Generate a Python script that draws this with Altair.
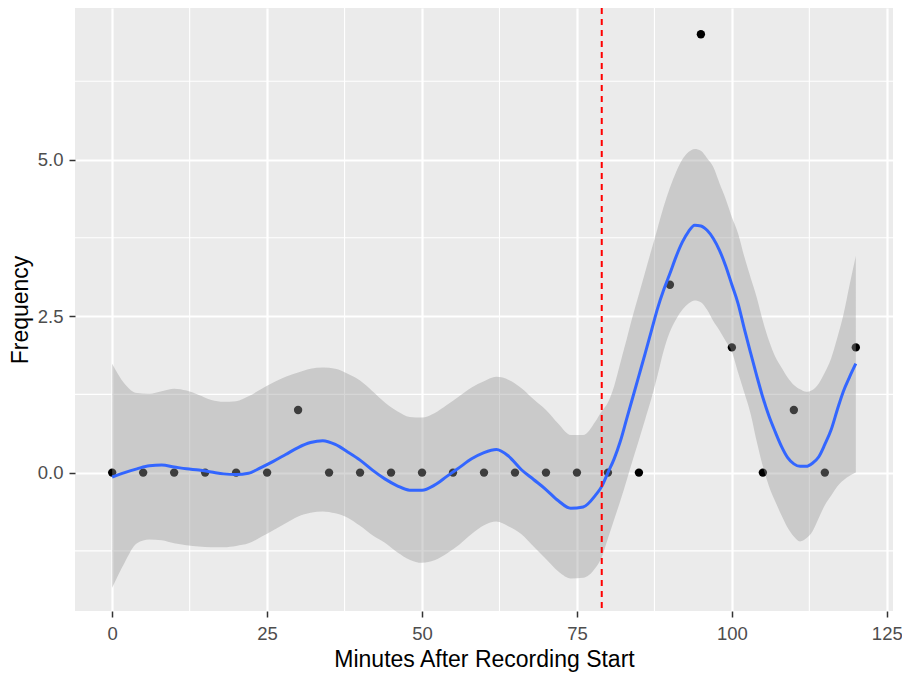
import altair as alt
import pandas as pd

# observed points
x_pts = [0, 5, 10, 15, 20, 25, 30, 35, 40, 45, 50, 55, 60, 65, 70, 75, 80, 85, 90, 95, 100, 105, 110, 115, 120]
y_pts = [0, 0, 0, 0, 0, 0, 1, 0, 0, 0, 0, 0, 0, 0, 0, 0, 0, 0, 3, 7, 2, 0, 1, 0, 2]

# smoother
x_s = [0, 2, 4, 6, 8, 10, 12, 14, 16, 18, 20, 22, 24, 26, 28, 30, 32, 34, 36, 38,
       40, 42, 44, 46, 48, 50, 52, 54, 56, 58, 60, 62, 64, 66, 68, 70, 72, 74, 76, 78,
       79, 80, 81, 82, 83, 84, 85, 86, 87, 88, 89, 90, 91, 92, 93, 94, 95, 96, 97, 98, 99,
       100, 101, 102, 103, 104, 105, 106, 107, 108, 109, 110, 111, 112, 113, 114, 115, 116,
       117, 118, 119, 120]
fit = [-0.07, 0.0, 0.06, 0.11, 0.12, 0.09, 0.06, 0.04, 0.01, -0.02, -0.03, -0.01, 0.08, 0.18, 0.29,
       0.40, 0.48, 0.51, 0.45, 0.33, 0.20, 0.04, -0.10, -0.21, -0.28, -0.28, -0.20, -0.06, 0.08, 0.22,
       0.32, 0.37, 0.26, 0.05, -0.11, -0.27, -0.45, -0.57, -0.55, -0.36,
       -0.22, 0.0, 0.22, 0.5, 0.85, 1.2, 1.55, 1.9, 2.26, 2.62, 2.92, 3.18, 3.45, 3.68, 3.85, 3.95,
       3.94, 3.87, 3.74, 3.55, 3.3, 3.0, 2.7, 2.3, 1.92, 1.55, 1.2, 0.9, 0.65, 0.42, 0.24, 0.14,
       0.1, 0.1, 0.15, 0.25, 0.45, 0.68, 1.0, 1.3, 1.53, 1.74]
lo = [-1.84, -1.44, -1.13, -1.07, -1.08, -1.13, -1.16, -1.18, -1.19, -1.19, -1.17, -1.13, -1.03,
      -0.92, -0.81, -0.70, -0.64, -0.62, -0.65, -0.72, -0.85, -1.0, -1.12, -1.27, -1.39, -1.44,
      -1.40, -1.29, -1.15, -0.98, -0.84, -0.78, -0.86, -0.98, -1.18, -1.38, -1.58, -1.69, -1.68, -1.52,
      -1.35, -1.05, -0.75, -0.45, -0.13, 0.2, 0.52, 0.85, 1.18, 1.55, 1.95, 2.25, 2.45, 2.6, 2.7,
      2.75, 2.72, 2.6, 2.42, 2.27, 2.1, 1.93, 1.6, 1.28, 0.95, 0.5, 0.1, -0.22, -0.46, -0.68, -0.88,
      -1.02, -1.10, -1.05, -0.94, -0.73, -0.52, -0.37, -0.22, -0.12, -0.05, 0.0]
hi = [1.74, 1.42, 1.27, 1.26, 1.30, 1.34, 1.31, 1.24, 1.16, 1.13, 1.14, 1.22, 1.33, 1.44, 1.53,
      1.60, 1.66, 1.68, 1.66, 1.58, 1.47, 1.30, 1.12, 0.98, 0.89, 0.88, 0.95, 1.08, 1.22, 1.36,
      1.46, 1.53, 1.48, 1.35, 1.17, 1.0, 0.78, 0.60, 0.60, 0.82,
      0.98, 1.12, 1.38, 1.75, 2.12, 2.5, 2.85, 3.2, 3.55, 3.9, 4.25, 4.55, 4.8, 5.0, 5.12, 5.17,
      5.14, 5.02, 4.88, 4.62, 4.37, 4.08, 3.82, 3.45, 3.12, 2.8, 2.42, 2.1, 1.85, 1.68, 1.52, 1.4,
      1.33, 1.29, 1.32, 1.42, 1.6, 1.82, 2.15, 2.52, 3.0, 3.46]

vline_x = [79]
x_ticks = [0, 25, 50, 75, 100, 125]
y_ticks = [0, 2.5, 5.0]
x_minor = [12.5, 37.5, 62.5, 87.5, 112.5]
y_minor = [-1.25, 1.25, 3.75, 6.25]

XT = "Minutes After Recording Start"
YT = "Frequency"
xs = alt.Scale(domain=[-6, 126], nice=False, zero=False)
ys = alt.Scale(domain=[-2.21, 7.42], nice=False, zero=False)
xax = alt.Axis(values=x_ticks, title=XT)
yax = alt.Axis(values=y_ticks, format=".1f", title=YT)

pts = pd.DataFrame({"x": x_pts, "y": y_pts})
sm = pd.DataFrame({"x": x_s, "fit": fit, "lo": lo, "hi": hi})
mx = pd.DataFrame({"x": x_minor})
my = pd.DataFrame({"y": y_minor})
vl = pd.DataFrame({"x": vline_x})

minor_x = alt.Chart(mx).mark_rule(color="white", strokeWidth=1.1).encode(
    x=alt.X("x:Q", scale=xs, axis=xax))
minor_y = alt.Chart(my).mark_rule(color="white", strokeWidth=1.1).encode(
    y=alt.Y("y:Q", scale=ys, axis=yax))
points = alt.Chart(pts).mark_circle(color="black", size=70, opacity=1).encode(
    x=alt.X("x:Q", scale=xs, axis=xax), y=alt.Y("y:Q", scale=ys, axis=yax))
ribbon = alt.Chart(sm).mark_area(color="#999999", opacity=0.4, interpolate="monotone").encode(
    x=alt.X("x:Q", scale=xs, axis=xax), y=alt.Y("lo:Q", scale=ys, axis=yax), y2="hi:Q")
line = alt.Chart(sm).mark_line(color="#3366FF", strokeWidth=3, interpolate="monotone").encode(
    x=alt.X("x:Q", scale=xs, axis=xax), y=alt.Y("fit:Q", scale=ys, axis=yax))
vrule = alt.Chart(vl).mark_rule(color="#FF0000", strokeWidth=2, strokeDash=[6, 5]).encode(
    x=alt.X("x:Q", scale=xs, axis=xax))

FONT = "Liberation Sans"
chart = alt.layer(minor_x, minor_y, points, ribbon, line, vrule).properties(
    width=818, height=603,
    autosize=alt.AutoSizeParams(type="none"),
    padding={"left": 67, "top": 0, "right": 9, "bottom": 61},
    background="white",
).configure_view(fill="#EBEBEB", strokeWidth=0).configure_axis(
    domain=False, grid=True, gridColor="white", gridWidth=2.2,
    ticks=True, tickColor="#333333", tickWidth=1.5, tickSize=6,
    labelFont=FONT, labelFontSize=18.5, labelColor="#4D4D4D",
    titleFont=FONT, titleFontSize=23, titleColor="black", titleFontWeight="normal",
).configure_axisX(labelPadding=7, titlePadding=6).configure_axisY(labelPadding=6, titlePadding=5)

chart.save("out.html", embed_options={"renderer": "svg", "actions": False})
